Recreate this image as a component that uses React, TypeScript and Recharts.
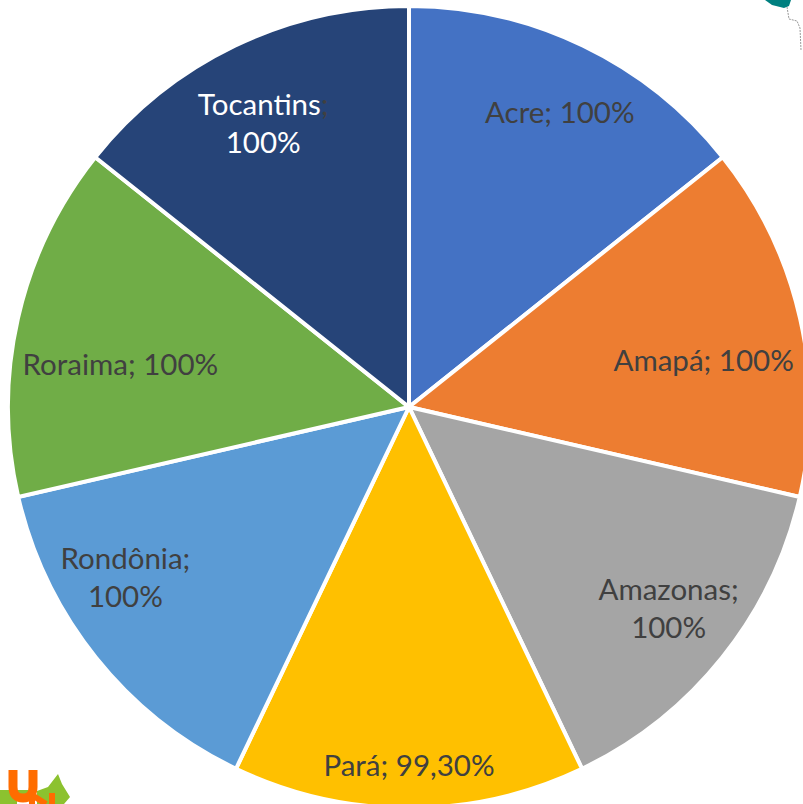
import { Cell, Pie, PieChart } from "recharts";

const states = ["Acre", "Amapá", "Amazonas", "Pará", "Rondônia", "Roraima", "Tocantins"];
const coverage = [100, 100, 100, 99.3, 100, 100, 100];
const valueLabels = ["100%", "100%", "100%", "99,30%", "100%", "100%", "100%"];
const colors = ["#4472C4", "#ED7D31", "#A5A5A5", "#FFC000", "#5B9BD5", "#70AD47", "#264478"];
const twoLineLabels = ["Amazonas", "Rondônia", "Tocantins"];

const data = states.map((name, i) => ({ name, value: coverage[i], text: valueLabels[i] }));

const RADIAN = Math.PI / 180;
const TEXT = "#404040";
const FONT_SIZE = 29.5;

// nudges from the polar position, the source labels were hand placed
const nudges: Record<string, [number, number]> = {
  Acre: [8, 1],
  "Amapá": [-26, 25],
  Amazonas: [3, -3],
  "Pará": [0, 29],
  "Rondônia": [-27, -34],
  Roraima: [32, 29],
  Tocantins: [-3, 14],
};

function renderLabel(props: any) {
  const { cx, cy, midAngle, outerRadius, index } = props;
  const row = data[index];
  const r = outerRadius * 0.82;
  const [nx, ny] = nudges[row.name];
  const x = cx + r * Math.cos(-midAngle * RADIAN) + nx;
  const y = cy + r * Math.sin(-midAngle * RADIAN) + ny;
  const fill = row.name === "Tocantins" ? "#FFFFFF" : TEXT;

  if (twoLineLabels.includes(row.name)) {
    return (
      <text x={x} y={y} textAnchor="middle" fontFamily="Lato" fontSize={FONT_SIZE} fill={fill}>
        <tspan x={x} dy={-10}>
          {row.name}
          <tspan fill={TEXT}>;</tspan>
        </tspan>
        <tspan x={x} dy={38}>{row.text}</tspan>
      </text>
    );
  }
  return (
    <text x={x} y={y} textAnchor="middle" dominantBaseline="central" fontFamily="Lato" fontSize={FONT_SIZE} fill={fill}>
      {row.name}; {row.text}
    </text>
  );
}

export default function App() {
  return (
    <div style={{ position: "absolute", left: 0, top: 0, width: 803, height: 804, overflow: "hidden", background: "#fff" }}>
      <PieChart width={803} height={804} margin={{ top: 0, right: 0, bottom: 0, left: 0 }}>
        <Pie
          data={data}
          dataKey="value"
          nameKey="name"
          cx={409}
          cy={407}
          outerRadius={401}
          startAngle={90}
          endAngle={-270}
          stroke="#FFFFFF"
          strokeWidth={4}
          labelLine={false}
          label={renderLabel}
          isAnimationActive={false}
        >
          {data.map((row, i) => (
            <Cell key={row.name} fill={colors[i]} />
          ))}
        </Pie>
      </PieChart>
      {/* cropped bits of other artwork at the picture edges */}
      <svg width={803} height={804} style={{ position: "absolute", left: 0, top: 0, pointerEvents: "none" }}>
        <path d="M765 0 L791 0 L789 6 L784 8 L772 5 Z" fill="#008080" />
        <path d="M787 7 L789 19 L797 21 L800 28 L801 50" fill="none" stroke="#999" strokeWidth={1} strokeDasharray="2 1" />
        <path d="M0 790 L17 790 L17 804 L0 804 Z M17 790 L28 790 L28 800 L17 800 Z M37 791 L48 787 L58 774 L62 784 L70 797 L64 804 L37 804 Z" fill="#8CC22F" />
        <path d="M13 770 V787 Q13 798 23 798 Q33 798 33 787 V770" fill="none" stroke="#FF6C00" strokeWidth={9} />
        <path d="M32 804 V795 L46 804 M52 793 V804" fill="none" stroke="#FF6C00" strokeWidth={6} />
      </svg>
    </div>
  );
}
